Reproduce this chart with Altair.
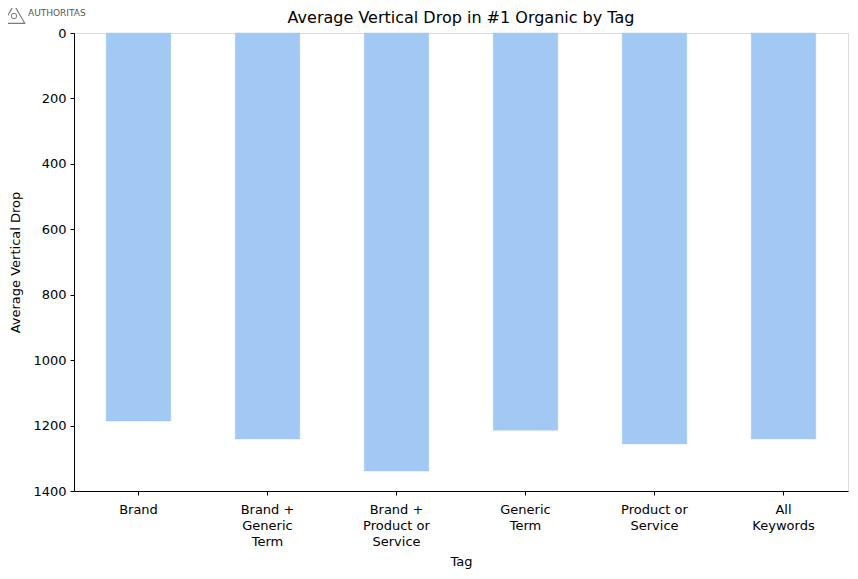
import altair as alt
import pandas as pd

tags = ["Brand", "Brand +\nGeneric\nTerm", "Brand +\nProduct or\nService", "Generic\nTerm", "Product or\nService", "All\nKeywords"]
values = [1186, 1241, 1339, 1214, 1256, 1241]
y_ticks = [0, 200, 400, 600, 800, 1000, 1200, 1400]
title_text = "Average Vertical Drop in #1 Organic by Tag"
logo = "AUTHORITAS"

df = pd.DataFrame({"tag": tags, "value": values})
FONT = "DejaVu Sans"
W, H = 774, 458

bars = alt.Chart(df).mark_bar(color="#a1c9f4", stroke="#a1c9f4", strokeWidth=0.5).encode(
    x=alt.X("tag:N", sort=tags, title="Tag",
            scale=alt.Scale(paddingInner=0.5, paddingOuter=0.25),
            axis=alt.Axis(labelAngle=0, labelExpr="split(datum.label, '\\n')",
                          labelFont=FONT, labelFontSize=13, labelColor="black",
                          labelLineHeight=16, labelPadding=8, labelBaseline="top",
                          titleFont=FONT, titleFontSize=13, titleFontWeight="normal",
                          titleColor="black", titlePadding=7,
                          tickColor="black", tickSize=4, domainColor="black")),
    y=alt.Y("value:Q", title="Average Vertical Drop",
            scale=alt.Scale(domain=[0, 1400], reverse=True, nice=False),
            axis=alt.Axis(values=y_ticks, grid=False, format="d",
                          labelFont=FONT, labelFontSize=13, labelColor="black",
                          labelPadding=4,
                          titleFont=FONT, titleFontSize=13, titleFontWeight="normal",
                          titleColor="black", titlePadding=10,
                          tickColor="black", tickSize=4, domainColor="black")),
)

title_mark = alt.Chart(pd.DataFrame({"t": [title_text]})).mark_text(
    align="center", baseline="middle", font=FONT, fontSize=16, color="black",
).encode(text="t:N", x=alt.value(W / 2), y=alt.value(-15))

logo_text = alt.Chart(pd.DataFrame({"t": [logo]})).mark_text(
    align="left", baseline="middle", font=FONT, fontSize=9, color="#555555",
).encode(text="t:N", x=alt.value(-46), y=alt.value(-20))

logo_icon = alt.Chart(pd.DataFrame({"t": [1]})).mark_point(
    shape="triangle-up", filled=False, color="#444444", size=460, strokeWidth=1.2
).encode(x=alt.value(-60), y=alt.value(-19))

logo_dot = alt.Chart(pd.DataFrame({"t": [1]})).mark_point(
    shape="circle", filled=False, color="#444444", size=30, strokeWidth=1
).encode(x=alt.value(-60), y=alt.value(-17))

chart = alt.layer(bars, title_mark, logo_text, logo_icon, logo_dot).properties(
    width=W, height=H,
    autosize=alt.AutoSizeParams(type="none"),
    padding={"left": 66, "top": 25, "right": 2, "bottom": 80},
).configure_view(stroke="black", strokeWidth=1).configure(background="white")

chart.save("out.html", embed_options={"renderer": "svg", "actions": False})
